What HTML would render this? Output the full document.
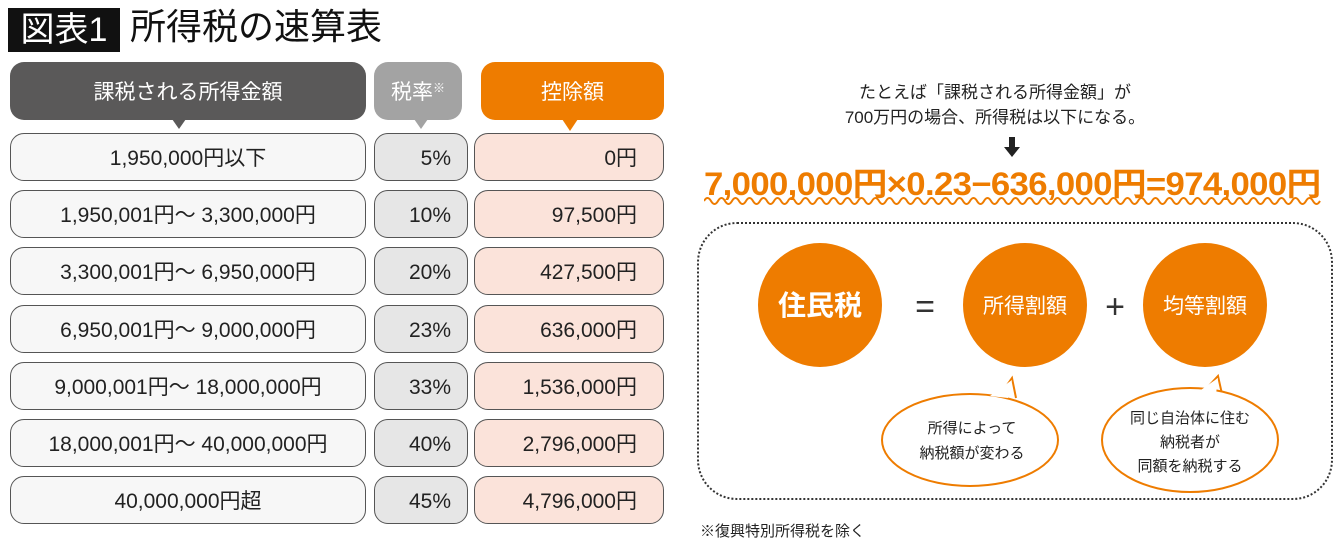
<!DOCTYPE html>
<html><head><meta charset="utf-8"><style>
body{margin:0;width:1340px;height:545px;background:#fff;position:relative;overflow:hidden;font-family:"Liberation Sans","Noto Sans CJK JP",sans-serif;}
.a{position:absolute;box-sizing:border-box;}
.hd{border-radius:14px;color:#fff;font-size:21px;display:flex;align-items:center;justify-content:center;}
.row{border:1.5px solid #555;border-radius:14px;font-size:21px;display:flex;align-items:center;color:#222;}
</style></head><body>
<div class="a" style="left:8px;top:8px;width:112px;height:44px;background:#111;color:#fff;font-size:34px;line-height:44px;text-align:center;">図表1</div>
<div class="a" style="left:130px;top:5px;font-size:36px;line-height:44px;color:#111;">所得税の速算表</div>

<div class="a hd" style="left:10px;top:62px;width:356px;height:58px;background:#5a5959;">課税される所得金額</div>
<div class="a hd" style="left:374px;top:62px;width:88px;height:58px;background:#a3a3a3;">税率<span style="font-size:12px;vertical-align:top;margin-top:-8px">※</span></div>
<div class="a hd" style="left:481px;top:62px;width:183px;height:58px;background:#ee7c00;">控除額</div>
<svg class="a" style="left:0;top:118px" width="680" height="16">
<polygon points="172,1 186,1 179,11" fill="#5a5959"/>
<polygon points="414,1 428,1 421,11" fill="#a3a3a3"/>
<polygon points="562,1 578,1 570,13" fill="#ee7c00"/>
</svg>
<div id="rows"></div>
<script>
var L=["1,950,000円以下","1,950,001円～ 3,300,000円","3,300,001円～ 6,950,000円","6,950,001円～ 9,000,000円","9,000,001円～ 18,000,000円","18,000,001円～ 40,000,000円","40,000,000円超"];
var R=["5%","10%","20%","23%","33%","40%","45%"];
var D=["0円","97,500円","427,500円","636,000円","1,536,000円","2,796,000円","4,796,000円"];
var h="";
for(var i=0;i<7;i++){var y=133+i*57.2;
h+='<div class="a row" style="left:10px;top:'+y+'px;width:356px;height:48px;background:#f7f7f7;justify-content:center">'+L[i]+'</div>';
h+='<div class="a row" style="left:374px;top:'+y+'px;width:94px;height:48px;background:#e6e6e6;justify-content:flex-end;padding-right:16px;padding-top:4px">'+R[i]+'</div>';
h+='<div class="a row" style="left:474px;top:'+y+'px;width:190px;height:48px;background:#fbe3da;justify-content:flex-end;padding-right:26px">'+D[i]+'</div>';}
document.getElementById("rows").innerHTML=h;
</script>

<div class="a" style="left:800px;top:80px;width:390px;text-align:center;font-size:17px;line-height:25px;color:#222;">たとえば「課税される所得金額」が<br>700万円の場合、所得税は以下になる。</div>
<svg class="a" style="left:1003px;top:137px" width="18" height="22"><rect x="6" y="0" width="6" height="11" fill="#222"/><polygon points="1,10 17,10 9,20" fill="#222"/></svg>
<div class="a" style="left:704px;top:159px;font-size:32px;font-weight:bold;color:#ee7c00;letter-spacing:-0.6px;white-space:nowrap;transform:scaleX(1.085);transform-origin:0 0;">7,000,000円×0.23−636,000円=974,000円</div>
<svg class="a" style="left:704px;top:194px" width="620" height="14"><path id="w" fill="none" stroke="#ee7c00" stroke-width="2" d=""/></svg>
<script>
var d="M0,7";for(var x=0;x<612;x+=14){d+=" q3.5,-6 7,0 q3.5,6 7,0";}document.getElementById("w").setAttribute("d",d);
</script>
<div class="a" style="left:697px;top:222px;width:636px;height:278px;border:2px dotted #333;border-radius:40px;"></div>
<svg class="a" style="left:690px;top:230px" width="650" height="270">
<circle cx="130" cy="75" r="62" fill="#ee7c00"/>
<circle cx="335" cy="75" r="62" fill="#ee7c00"/>
<circle cx="515" cy="75" r="62" fill="#ee7c00"/>
<text x="130" y="85" fill="#fff" font-size="28" font-weight="bold" text-anchor="middle" font-family="Liberation Sans,Noto Sans CJK JP,sans-serif">住民税</text>
<text x="335" y="83" fill="#fff" font-size="21" text-anchor="middle" font-family="Liberation Sans,Noto Sans CJK JP,sans-serif">所得割額</text>
<text x="515" y="83" fill="#fff" font-size="21" text-anchor="middle" font-family="Liberation Sans,Noto Sans CJK JP,sans-serif">均等割額</text>
<text x="235" y="88" fill="#333" font-size="34" text-anchor="middle">=</text>
<text x="425" y="88" fill="#333" font-size="34" text-anchor="middle">+</text>
<path d="M310,165 L322,148 L326,168" fill="#fff" stroke="#ee7c00" stroke-width="2"/>
<ellipse cx="280" cy="210" rx="88" ry="46" fill="#fff" stroke="#ee7c00" stroke-width="2"/>
<path d="M300,166 L322,150 L318,168 Z" fill="#fff"/>
<path d="M515,160 L528,146 L532,164" fill="#fff" stroke="#ee7c00" stroke-width="2"/>
<ellipse cx="500" cy="210" rx="88" ry="52" fill="#fff" stroke="#ee7c00" stroke-width="2"/>
<path d="M508,162 L528,148 L526,164 Z" fill="#fff"/>
<g font-size="15" fill="#222" text-anchor="middle" font-family="Liberation Sans,Noto Sans CJK JP,sans-serif">
<text x="282" y="203">所得によって</text><text x="282" y="228">納税額が変わる</text>
<text x="500" y="193">同じ自治体に住む</text><text x="500" y="217">納税者が</text><text x="500" y="241">同額を納税する</text>
</g>
</svg>
<div class="a" style="left:700px;top:520px;font-size:15px;color:#222;">※復興特別所得税を除く</div>
</body></html>
